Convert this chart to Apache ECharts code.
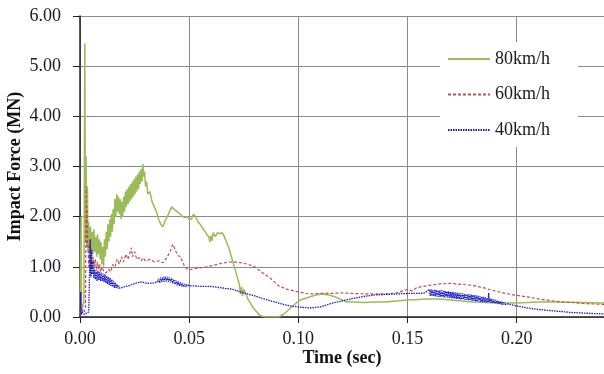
<!DOCTYPE html>
<html>
<head>
<meta charset="utf-8">
<script src="https://cdn.jsdelivr.net/npm/echarts@6/dist/echarts.min.js"></script>
<style>
  html, body { margin: 0; padding: 0; background: #fff; }
  #chart { width: 604px; height: 374px; }
</style>
</head>
<body>
<div id="chart"></div>
<script>
// Impact force histories for three vehicle speeds: [time (s), force (MN)]
var speed80 = [
  [0,0],[0.0003,0],[0.0005,2.0],[0.0007,0.1],[0.0012,0.2],[0.0018,0.3],[0.0022,5.45],[0.0025,1.5],
  [0.0028,3.2],[0.0031,1.4],[0.0034,2.6],[0.0037,1.3],[0.004,1.9],[0.0044,1.3],[0.0048,1.8],[0.0052,1.2],
  [0.0056,1.7],[0.006,1.25],[0.0064,1.75],[0.0068,1.3],[0.0072,1.6],[0.0076,1.2],[0.008,1.65],[0.0084,1.25],
  [0.0088,1.55],[0.0092,1.15],[0.0096,1.5],[0.01,1.05],[0.0104,1.4],[0.0108,1.0],[0.0112,1.55],[0.0116,1.2],
  [0.012,1.7],[0.0124,1.35],[0.0128,1.85],[0.0132,1.5],[0.0136,1.95],[0.014,1.6],[0.0144,2.05],[0.0148,1.7],
  [0.0152,2.15],[0.0156,1.85],[0.016,2.35],[0.0164,2.0],[0.0168,2.45],[0.0172,2.1],[0.0176,2.4],[0.018,2.05],
  [0.0184,2.35],[0.0188,1.95],[0.0192,2.3],[0.0196,2.0],[0.02,2.4],[0.0204,2.1],[0.0208,2.5],[0.0212,2.2],
  [0.0216,2.55],[0.022,2.25],[0.0224,2.6],[0.0228,2.3],[0.0232,2.65],[0.0236,2.35],[0.024,2.7],[0.0244,2.4],
  [0.0248,2.75],[0.0252,2.45],[0.0256,2.8],[0.026,2.5],[0.0264,2.85],[0.0268,2.55],[0.0272,2.9],[0.0276,2.65],
  [0.028,2.95],[0.0284,2.7],[0.0288,3.05],[0.0292,2.8],[0.0296,2.9],[0.03,2.6],[0.0305,2.7],[0.031,2.45],
  [0.032,2.5],[0.033,2.3],[0.034,2.2],[0.035,2.1],[0.036,1.95],[0.037,1.85],[0.038,1.8],[0.039,1.92],
  [0.04,2.0],[0.041,2.1],[0.042,2.2],[0.043,2.15],[0.044,2.12],[0.045,2.08],[0.046,2.05],[0.047,2.0],
  [0.048,1.98],[0.049,2.0],[0.05,1.95],[0.051,1.95],[0.052,2.05],[0.053,2.0],[0.054,1.9],[0.055,1.85],
  [0.056,1.78],[0.057,1.72],[0.058,1.65],[0.059,1.6],[0.0595,1.5],[0.06,1.62],[0.0605,1.52],[0.061,1.68],
  [0.062,1.6],[0.063,1.68],[0.064,1.66],[0.065,1.68],[0.066,1.62],[0.067,1.5],[0.068,1.4],[0.069,1.25],
  [0.07,1.1],[0.071,0.95],[0.072,0.8],[0.073,0.65],[0.0735,0.45],[0.074,0.6],[0.0745,0.42],[0.075,0.55],
  [0.076,0.45],[0.077,0.35],[0.078,0.28],[0.079,0.2],[0.08,0.15],[0.081,0.1],[0.082,0.05],[0.083,0.02],
  [0.085,0],[0.088,0],[0.091,0],[0.093,0.05],[0.095,0.12],[0.097,0.2],[0.099,0.28],[0.101,0.34],
  [0.103,0.37],[0.105,0.4],[0.108,0.44],[0.111,0.46],[0.114,0.44],[0.117,0.4],[0.12,0.34],[0.122,0.3],
  [0.126,0.3],[0.13,0.29],[0.135,0.3],[0.14,0.3],[0.145,0.32],[0.15,0.34],[0.155,0.35],[0.16,0.36],
  [0.165,0.36],[0.17,0.34],[0.175,0.32],[0.18,0.3],[0.19,0.28],[0.2,0.28],[0.21,0.3],[0.22,0.3],
  [0.23,0.29],[0.24,0.28]
];

var speed60 = [
  [0,0],[0.0004,0.5],[0.0006,0.05],[0.001,0.1],[0.0015,0.15],[0.002,0.1],[0.0025,0.2],[0.0028,2.6],
  [0.003,1.4],[0.0032,2.2],[0.0035,1.5],[0.0038,1.3],[0.004,1.0],[0.0043,1.45],[0.0046,0.9],[0.005,1.2],
  [0.0055,0.95],[0.006,1.2],[0.0065,1.0],[0.007,1.15],[0.0075,0.95],[0.008,1.1],[0.0085,0.95],[0.009,1.05],
  [0.0095,0.9],[0.01,1.0],[0.011,0.9],[0.012,0.88],[0.013,0.95],[0.014,0.9],[0.015,1.05],[0.016,1.0],
  [0.017,1.15],[0.018,1.05],[0.019,1.2],[0.02,1.1],[0.021,1.25],[0.022,1.15],[0.0235,1.38],[0.024,1.2],
  [0.025,1.3],[0.026,1.15],[0.027,1.18],[0.028,1.12],[0.029,1.18],[0.03,1.12],[0.032,1.15],[0.034,1.1],
  [0.036,1.12],[0.038,1.08],[0.04,1.2],[0.041,1.28],[0.0425,1.45],[0.044,1.3],[0.045,1.22],[0.046,1.2],
  [0.047,1.1],[0.048,1.0],[0.049,0.96],[0.05,0.94],[0.052,0.96],[0.055,0.98],[0.058,1.0],[0.06,1.02],
  [0.063,1.05],[0.066,1.08],[0.07,1.1],[0.074,1.08],[0.077,1.05],[0.08,1.0],[0.083,0.9],[0.087,0.78],
  [0.091,0.62],[0.095,0.55],[0.1,0.5],[0.105,0.46],[0.11,0.47],[0.115,0.47],[0.12,0.48],[0.125,0.47],
  [0.13,0.46],[0.135,0.46],[0.14,0.46],[0.145,0.48],[0.148,0.52],[0.15,0.55],[0.152,0.52],[0.154,0.58],
  [0.156,0.6],[0.16,0.63],[0.165,0.66],[0.17,0.67],[0.175,0.65],[0.18,0.63],[0.185,0.58],[0.19,0.52],
  [0.195,0.47],[0.2,0.43],[0.205,0.4],[0.21,0.36],[0.215,0.33],[0.22,0.3],[0.225,0.29],[0.23,0.27],
  [0.24,0.25]
];

var speed40 = [
  [0,0],[0.0003,0.5],[0.0005,0.05],[0.001,0.1],[0.002,0.05],[0.003,0.08],[0.004,0.1],[0.0045,0.12],
  [0.0047,1.55],[0.005,0.8],[0.0053,1.35],[0.0056,0.85],[0.006,1.1],[0.0063,0.78],[0.0066,0.95],[0.007,0.75],
  [0.0074,0.93],[0.0078,0.72],[0.0082,0.92],[0.0086,0.74],[0.009,0.9],[0.0094,0.72],[0.0098,0.88],[0.0102,0.72],
  [0.0106,0.86],[0.011,0.7],[0.0114,0.85],[0.0118,0.68],[0.0122,0.82],[0.0126,0.66],[0.013,0.8],[0.0134,0.64],
  [0.0138,0.78],[0.0142,0.62],[0.0146,0.75],[0.015,0.6],[0.0154,0.72],[0.0158,0.58],[0.0162,0.68],[0.0166,0.58],
  [0.017,0.65],[0.0174,0.57],[0.0178,0.62],[0.0182,0.57],[0.019,0.6],[0.02,0.6],[0.022,0.62],[0.024,0.65],
  [0.026,0.68],[0.028,0.7],[0.03,0.68],[0.032,0.67],[0.034,0.68],[0.0355,0.7],[0.036,0.76],[0.0365,0.68],
  [0.037,0.79],[0.0375,0.7],[0.038,0.8],[0.0385,0.7],[0.039,0.81],[0.0395,0.71],[0.04,0.8],[0.0405,0.7],
  [0.041,0.79],[0.0415,0.69],[0.042,0.77],[0.0425,0.67],[0.043,0.75],[0.0435,0.65],[0.044,0.73],[0.0445,0.63],
  [0.045,0.71],[0.0455,0.62],[0.046,0.69],[0.0465,0.61],[0.047,0.67],[0.0475,0.6],[0.048,0.66],[0.0485,0.6],
  [0.049,0.65],[0.05,0.62],[0.052,0.62],[0.055,0.61],[0.06,0.61],[0.065,0.58],[0.07,0.55],[0.075,0.48],
  [0.08,0.42],[0.085,0.35],[0.09,0.29],[0.095,0.23],[0.1,0.2],[0.105,0.18],[0.11,0.2],[0.115,0.27],
  [0.12,0.32],[0.125,0.37],[0.13,0.41],[0.135,0.44],[0.14,0.45],[0.145,0.46],[0.15,0.47],[0.155,0.47],
  [0.158,0.48],
  [0.1600,0.55],[0.1604,0.42],[0.1608,0.55],[0.1612,0.42],[0.1616,0.54],[0.1620,0.41],[0.1624,0.54],[0.1628,0.41],
  [0.1632,0.54],[0.1636,0.41],[0.1640,0.53],[0.1644,0.40],[0.1648,0.53],[0.1652,0.40],[0.1656,0.53],[0.1660,0.40],
  [0.1664,0.52],[0.1668,0.39],[0.1672,0.52],[0.1676,0.39],[0.1680,0.51],[0.1684,0.39],[0.1688,0.51],[0.1692,0.38],
  [0.1696,0.50],[0.1700,0.38],[0.1704,0.50],[0.1708,0.37],[0.1712,0.49],[0.1716,0.37],[0.1720,0.49],[0.1724,0.36],
  [0.1728,0.48],[0.1732,0.36],[0.1736,0.48],[0.1740,0.35],[0.1744,0.47],[0.1748,0.35],[0.1752,0.47],[0.1756,0.35],
  [0.1760,0.46],[0.1764,0.34],[0.1768,0.46],[0.1772,0.34],[0.1776,0.45],[0.1780,0.33],[0.1784,0.45],[0.1788,0.33],
  [0.1792,0.44],[0.1796,0.32],[0.1800,0.44],[0.1804,0.32],[0.1808,0.43],[0.1812,0.31],[0.1816,0.43],[0.1820,0.31],
  [0.1824,0.42],[0.1828,0.31],[0.1832,0.41],[0.1836,0.30],[0.1840,0.41],[0.1844,0.30],[0.1848,0.40],[0.1852,0.30],
  [0.1856,0.39],[0.1860,0.29],[0.1864,0.38],[0.1868,0.29],[0.1872,0.48],[0.1874,0.30],[0.1878,0.37],[0.1882,0.28],
  [0.1886,0.36],[0.1890,0.28],[0.1894,0.35],[0.1898,0.27],[0.1902,0.34],[0.1906,0.27],[0.1910,0.33],[0.1914,0.26],
  [0.1918,0.32],[0.1922,0.26],[0.1926,0.31],[0.1930,0.25],[0.1934,0.30],[0.1938,0.25],[0.1942,0.29],[0.1946,0.25],
  [0.1950,0.28],[0.1960,0.26],
  [0.2,0.22],[0.205,0.18],[0.21,0.15],[0.215,0.13],[0.22,0.11],[0.225,0.09],[0.23,0.08],[0.235,0.07],
  [0.24,0.06]
];

var seriesNames = ['80km/h', '60km/h', '40km/h'];
var timeTicks = [0, 0.05, 0.10, 0.15, 0.20];
var forceTicks = [0, 1, 2, 3, 4, 5, 6];

var serif = '"Liberation Serif", "Times New Roman", serif';
var chart = echarts.init(document.getElementById('chart'), null, { renderer: 'canvas' });

chart.setOption({
  animation: false,
  backgroundColor: '#fff',
  grid: { left: 80, right: 0, top: 16, bottom: 57, containLabel: false, outerBoundsMode: 'none' },
  legend: {
    data: seriesNames,
    orient: 'vertical',
    left: 440,
    top: 42,
    itemWidth: 42,
    itemHeight: 2,
    itemGap: 17.5,
    padding: [8, 28, 8, 7],
    backgroundColor: '#fff',
    itemStyle: { opacity: 0 },
    textStyle: { fontFamily: serif, fontSize: 18, color: '#1a1a1a' }
  },
  xAxis: {
    type: 'value',
    min: 0,
    max: 0.24,
    interval: 0.05,
    name: 'Time (sec)',
    nameLocation: 'middle',
    nameGap: 32,
    nameMoveOverlap: false,
    nameTextStyle: { fontFamily: serif, fontSize: 18, fontWeight: 'bold', color: '#111' },
    axisLine: { show: true, onZero: false, lineStyle: { color: '#222', width: 1.5 } },
    axisTick: { show: true, inside: false, length: 6, lineStyle: { color: '#222' } },
    axisLabel: {
      margin: 13,
      fontFamily: serif, fontSize: 18, color: '#1a1a2a',
      formatter: function (v) {
        for (var i = 0; i < timeTicks.length; i++) {
          if (Math.abs(v - timeTicks[i]) < 1e-9) return timeTicks[i].toFixed(2);
        }
        return '';
      }
    },
    splitLine: { show: true, lineStyle: { color: '#8a8a8a', width: 1 } }
  },
  yAxis: {
    type: 'value',
    min: 0,
    max: 6,
    interval: 1,
    name: 'Impact Force (MN)',
    nameLocation: 'middle',
    nameGap: 56,
    nameMoveOverlap: false,
    nameTextStyle: { fontFamily: serif, fontSize: 18, fontWeight: 'bold', color: '#111' },
    axisLine: { show: true, lineStyle: { color: '#222', width: 1.5 } },
    axisTick: { show: true, inside: false, length: 7, lineStyle: { color: '#222' } },
    axisLabel: {
      margin: 19,
      fontFamily: serif, fontSize: 18, color: '#1a1a2a',
      formatter: function (v) {
        return forceTicks.indexOf(v) >= 0 ? v.toFixed(2) : '';
      }
    },
    splitLine: { show: true, lineStyle: { color: '#8a8a8a', width: 1 } }
  },
  series: [
    {
      name: seriesNames[0], type: 'line', data: speed80, symbol: 'none',
      lineStyle: { color: '#9bbb59', width: 1.5, type: 'solid' },
      itemStyle: { color: '#9bbb59' }, z: 3
    },
    {
      name: seriesNames[1], type: 'line', data: speed60, symbol: 'none',
      lineStyle: { color: '#c0504d', width: 1.2, type: [3, 2] },
      itemStyle: { color: '#c0504d' }, z: 4
    },
    {
      name: seriesNames[2], type: 'line', data: speed40, symbol: 'none',
      lineStyle: { color: '#1a1ad0', width: 1.3, type: [1.5, 1] },
      itemStyle: { color: '#1a1ad0' }, z: 5
    }
  ]
});
</script>
</body>
</html>
